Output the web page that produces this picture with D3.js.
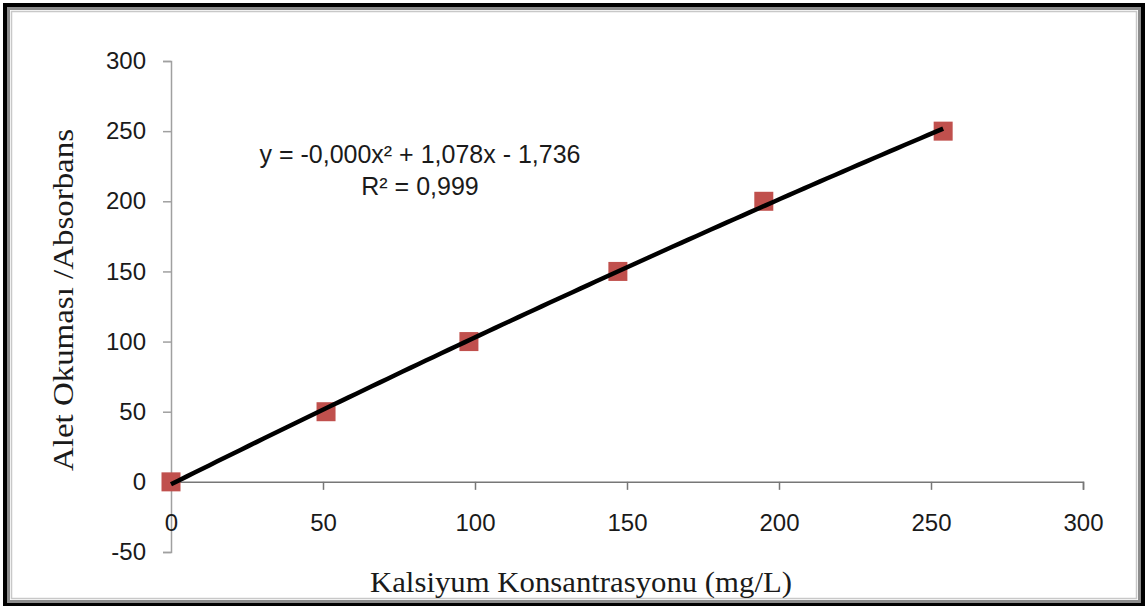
<!DOCTYPE html>
<html>
<head>
<meta charset="utf-8">
<script src="https://cdn.jsdelivr.net/npm/d3@7"></script>
<style>
body { margin:0; background:#fff; }
svg { display:block; }
</style>
</head>
<body>
<div id="chart"></div>
<script>
// data
var concX = [0, 51, 98, 147, 195, 254]
var readY = [0, 50, 100, 150, 200, 250]
var xTicks = [0, 50, 100, 150, 200, 250, 300]
var yTicks = [-50, 0, 50, 100, 150, 200, 250, 300]
var eqLines = ["y = -0,000x\u00B2 + 1,078x - 1,736", "R\u00B2 = 0,999"]

var w = 1148, h = 608

var svg = d3.select("#chart")
.append("svg")
.attr("width", w)
.attr("height", h)

// frame
svg.append("rect").attr("x", 5).attr("y", 5).attr("width", 1138).attr("height", 599)
.attr("fill", "none").attr("stroke", "#000").attr("stroke-width", 4)
svg.append("rect").attr("x", 8.5).attr("y", 8.5).attr("width", 1131).attr("height", 593)
.attr("fill", "none").attr("stroke", "#8c8c8c").attr("stroke-width", 3)
svg.append("rect").attr("x", 11.5).attr("y", 11.5).attr("width", 1125).attr("height", 587)
.attr("fill", "none").attr("stroke", "#c8c8c8").attr("stroke-width", 1.5)

var x = d3.scaleLinear().domain([0, 300]).range([171, 1083])
var y = d3.scaleLinear().domain([-50, 300]).range([552, 61])
var plain = function(d) { return String(d) }

// y axis
var yAxis = svg.append("g")
.attr("transform", "translate(" + x(0) + ",0)")
.call(d3.axisLeft(y).tickValues(yTicks).tickFormat(plain).tickSize(8).tickPadding(17))
yAxis.select(".domain").attr("stroke", "#a0a0a0").attr("stroke-width", 1.5)
yAxis.selectAll(".tick line").attr("stroke", "#a0a0a0").attr("stroke-width", 1.5)
yAxis.selectAll("text").attr("font-family", "Liberation Sans, Arial, sans-serif")
.attr("font-size", 24).attr("fill", "#1a1a1a")

// x axis at y = 0
var xAxis = svg.append("g")
.attr("transform", "translate(0," + y(0) + ")")
.call(d3.axisBottom(x).tickValues(xTicks).tickFormat(plain).tickSize(8).tickSizeOuter(8).tickPadding(24))
xAxis.select(".domain").attr("stroke", "#777").attr("stroke-width", 1.5)
xAxis.selectAll(".tick line").attr("stroke", "#777").attr("stroke-width", 1.5)
xAxis.selectAll("text").attr("font-family", "Liberation Sans, Arial, sans-serif")
.attr("font-size", 24).attr("fill", "#1a1a1a")

// quadratic least-squares trendline from the points
function quadFit(xs, ys) {
  var n = xs.length, s = [0,0,0,0,0], t = [0,0,0]
  for (var i = 0; i < n; i++) {
    for (var k = 0; k < 5; k++) s[k] += Math.pow(xs[i], k)
    for (var k = 0; k < 3; k++) t[k] += ys[i] * Math.pow(xs[i], k)
  }
  var A = [[s[0], s[1], s[2], t[0]], [s[1], s[2], s[3], t[1]], [s[2], s[3], s[4], t[2]]]
  for (var c = 0; c < 3; c++) {
    for (var r = c + 1; r < 3; r++) {
      var f = A[r][c] / A[c][c]
      for (var k = c; k < 4; k++) A[r][k] -= f * A[c][k]
    }
  }
  var b = [0,0,0]
  for (var r = 2; r >= 0; r--) {
    var v = A[r][3]
    for (var k = r + 1; k < 3; k++) v -= A[r][k] * b[k]
    b[r] = v / A[r][r]
  }
  return b
}
var coef = quadFit(concX, readY)
var fitPts = d3.range(0, 101).map(function(i) {
  var xv = concX[0] + (concX[concX.length - 1] - concX[0]) * i / 100
  return [xv, coef[0] + coef[1] * xv + coef[2] * xv * xv]
})

// markers
svg.selectAll(".pt")
.data(concX)
.enter().append("rect")
.attr("class", "pt")
.attr("x", function(d) { return x(d) - 9.5 })
.attr("y", function(d, i) { return y(readY[i]) - 9.5 })
.attr("width", 19).attr("height", 19)
.attr("fill", "#c0504d")

svg.append("path")
.attr("d", d3.line().x(function(d) { return x(d[0]) }).y(function(d) { return y(d[1]) })(fitPts))
.attr("fill", "none").attr("stroke", "#000").attr("stroke-width", 4.5)

// equation label
svg.append("text")
.attr("x", 420).attr("y", 163)
.attr("text-anchor", "middle")
.attr("font-family", "Liberation Sans, Arial, sans-serif")
.attr("font-size", 25).attr("fill", "#1a1a1a")
.text(eqLines[0])
svg.append("text")
.attr("x", 420).attr("y", 195)
.attr("text-anchor", "middle")
.attr("font-family", "Liberation Sans, Arial, sans-serif")
.attr("font-size", 25).attr("fill", "#1a1a1a")
.text(eqLines[1])

// axis titles
svg.append("text")
.attr("x", 581).attr("y", 592)
.attr("text-anchor", "middle")
.attr("font-family", "Liberation Serif, Times New Roman, serif")
.attr("font-size", 29).attr("fill", "#1a1a1a")
.attr("textLength", 422).attr("lengthAdjust", "spacingAndGlyphs")
.text("Kalsiyum Konsantrasyonu (mg/L)")

svg.append("text")
.attr("transform", "translate(73,300) rotate(-90)")
.attr("text-anchor", "middle")
.attr("font-family", "Liberation Serif, Times New Roman, serif")
.attr("font-size", 30).attr("fill", "#1a1a1a")
.attr("textLength", 342).attr("lengthAdjust", "spacingAndGlyphs")
.text("Alet Okuması /Absorbans")
</script>
</body>
</html>
